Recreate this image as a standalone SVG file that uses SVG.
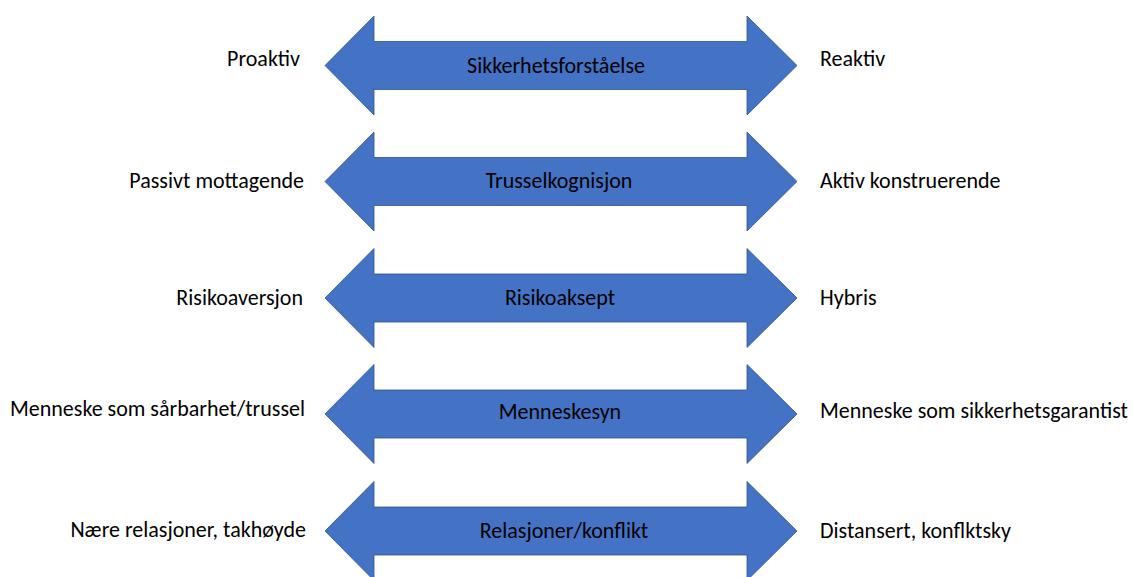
<svg xmlns="http://www.w3.org/2000/svg" xmlns:xlink="http://www.w3.org/1999/xlink" width="1134" height="577" viewBox="0 0 1134 577">
<style>
.arrow{fill:#4472C4;stroke:#2F528F;stroke-width:0.8}
text{font-family:Carlito,Lato,"Liberation Sans",sans-serif;font-size:22px;fill:#000}
.l{text-anchor:end}
.c{text-anchor:middle}
.r{text-anchor:start}
</style>
<defs>
<path id="dbl" d="M325,0 L374,-49.5 L374,-24 L747,-24 L747,-49.5 L797,0 L747,49.5 L747,24 L374,24 L374,49.5 Z"/>
</defs>
<rect width="1134" height="577" fill="#fff"/>
<g id="row1" transform="translate(0,65.5)">
<use xlink:href="#dbl" class="arrow"/>
<text class="c" x="556" y="7">Sikkerhetsforståelse</text>
<text class="l" x="300" y="0.5">Proaktiv</text>
<text class="r" x="820" y="0.5">Reaktiv</text>
</g>
<g id="row2" transform="translate(0,181.5)">
<use xlink:href="#dbl" class="arrow"/>
<text class="c" x="559" y="6.5">Trusselkognisjon</text>
<text class="l" x="304" y="6.5">Passivt mottagende</text>
<text class="r" x="820" y="6.5">Aktiv konstruerende</text>
</g>
<g id="row3" transform="translate(0,298)">
<use xlink:href="#dbl" class="arrow"/>
<text class="c" x="560" y="6.5">Risikoaksept</text>
<text class="l" x="303" y="6.5">Risikoaversjon</text>
<text class="r" x="820" y="6.5">Hybris</text>
</g>
<g id="row4" transform="translate(0,414)">
<use xlink:href="#dbl" class="arrow"/>
<text class="c" x="560" y="4.5">Menneskesyn</text>
<text class="l" x="305" y="1.5">Menneske som sårbarhet/trussel</text>
<text class="r" x="820" y="3.5">Menneske som sikkerhetsgarantist</text>
</g>
<g id="row5" transform="translate(0,531)">
<use xlink:href="#dbl" class="arrow"/>
<text class="c" x="564" y="6.5">Relasjoner/konflikt</text>
<text class="l" x="306" y="5.5">Nære relasjoner, takhøyde</text>
<text class="r" x="820" y="6.5">Distansert, konflktsky</text>
</g>
</svg>
